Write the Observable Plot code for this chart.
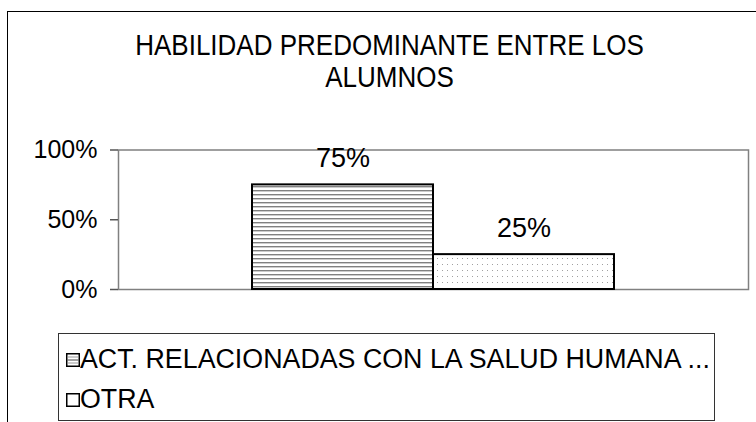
<!DOCTYPE html>
<html>
<head>
<meta charset="utf-8">
<script src="https://cdn.jsdelivr.net/npm/d3@7"></script>
<script src="https://cdn.jsdelivr.net/npm/@observablehq/plot@0.6"></script>
<style>
  html, body { margin: 0; padding: 0; background: #fff; }
  body { width: 756px; height: 422px; overflow: hidden; position: relative; font-family: "Liberation Sans", Arial, sans-serif; }
  #frame { position: absolute; left: 7px; top: 11px; width: 800px; height: 500px; border-left: 1.5px solid #000; border-top: 1.5px solid #000; box-sizing: border-box; }
  #title { position: absolute; left: 0; top: 30px; width: 779px; text-align: center; font-size: 26px; line-height: 29px; color: #000; transform: scale(1, 1.1); transform-origin: 50% 0; }
  #chart { position: absolute; left: 0; top: 130px; }
  #legend { position: absolute; left: 58px; top: 333px; width: 657px; height: 88px; border: 1.5px solid #333; box-sizing: border-box; background: #fff; }
  .item { position: absolute; left: 0; font-size: 26.8px; line-height: 30px; white-space: nowrap; color: #000; }
  .item svg { position: absolute; left: 7px; top: 10px; }
  .item span { position: absolute; left: 21px; top: 0; transform: scale(1, 1.06); transform-origin: 0 50%; }
</style>
</head>
<body>
<svg width="0" height="0" style="position:absolute">
  <defs>
    <pattern id="pHoriz" patternUnits="userSpaceOnUse" width="8" height="4">
      <rect width="8" height="4" fill="#fff"/>
      <rect y="0" width="8" height="1.4" fill="#808080"/>
    </pattern>
    <pattern id="pDots" patternUnits="userSpaceOnUse" width="5" height="6">
      <rect width="5" height="6" fill="#fff"/>
      <rect x="2" y="2" width="1" height="1" fill="#a0a0a0"/>
    </pattern>
  </defs>
</svg>
<div id="frame"></div>
<div id="title">HABILIDAD PREDOMINANTE ENTRE LOS<br>ALUMNOS</div>
<div id="chart"></div>
<div id="legend"></div>
<script>
const categories = ["ACT. RELACIONADAS CON LA SALUD HUMANA ...", "OTRA"];
const values = [0.75, 0.25];
const valueLabels = ["75%", "25%"];
const yTicks = [0, 0.5, 1];
const legendLabels = ["ACT. RELACIONADAS CON LA SALUD HUMANA ...", "OTRA"];

const patterns = ["url(#pHoriz)", "url(#pDots)"];
const data = categories.map((c, i) => ({category: c, value: values[i], label: valueLabels[i]}));

const chart = Plot.plot({
  width: 756,
  height: 180,
  marginTop: 19.5,
  marginBottom: 21,
  marginLeft: 118,
  marginRight: 8,
  style: {fontFamily: "Liberation Sans, Arial, sans-serif", background: "transparent", color: "#000"},
  x: {type: "band", domain: categories, paddingInner: 0, paddingOuter: 0.737, axis: null},
  y: {domain: [0, 1], axis: null},
  color: {domain: categories, range: patterns, legend: false},
  marks: [
    Plot.frame({stroke: "#808080", strokeWidth: 1.5}),
    Plot.axisY({ticks: yTicks, tickFormat: d3.format(".0%"), tickSize: 8, tickPadding: 13, fontSize: 25, stroke: "#555", strokeWidth: 1.5, color: "#000", label: null}),
    Plot.barY(data, {x: "category", y: "value", fill: "category", stroke: "#000", strokeWidth: 2, inset: 0}),
    Plot.text(data, {x: "category", y: "value", text: "label", dy: -18, lineAnchor: "bottom", fontSize: 27, fill: "#000"})
  ]
});
d3.select(chart).selectAll("g[aria-label='y-axis tick label'] text").attr("fill", "#000");
document.getElementById("chart").appendChild(chart);

// legend
const legend = d3.select("#legend");
legendLabels.forEach((lab, i) => {
  const item = legend.append("div").attr("class", "item").style("top", (i === 0 ? 9 : 49) + "px");
  const s = item.append("svg").attr("width", 14).attr("height", 14);
  s.append("rect").attr("x", 0.75).attr("y", 0.75).attr("width", 12.5).attr("height", 12.5)
    .attr("fill", "#fff").attr("stroke", "#000").attr("stroke-width", 1.5);
  if (i === 0) {
    [4, 7, 10].forEach((yy, k) => {
      s.append("line").attr("x1", 1.5).attr("x2", 12.5).attr("y1", yy).attr("y2", yy)
        .attr("stroke", k === 1 ? "#444" : "#999").attr("stroke-width", 1);
    });
  }
  item.append("span").text(lab);
});
</script>
</body>
</html>
